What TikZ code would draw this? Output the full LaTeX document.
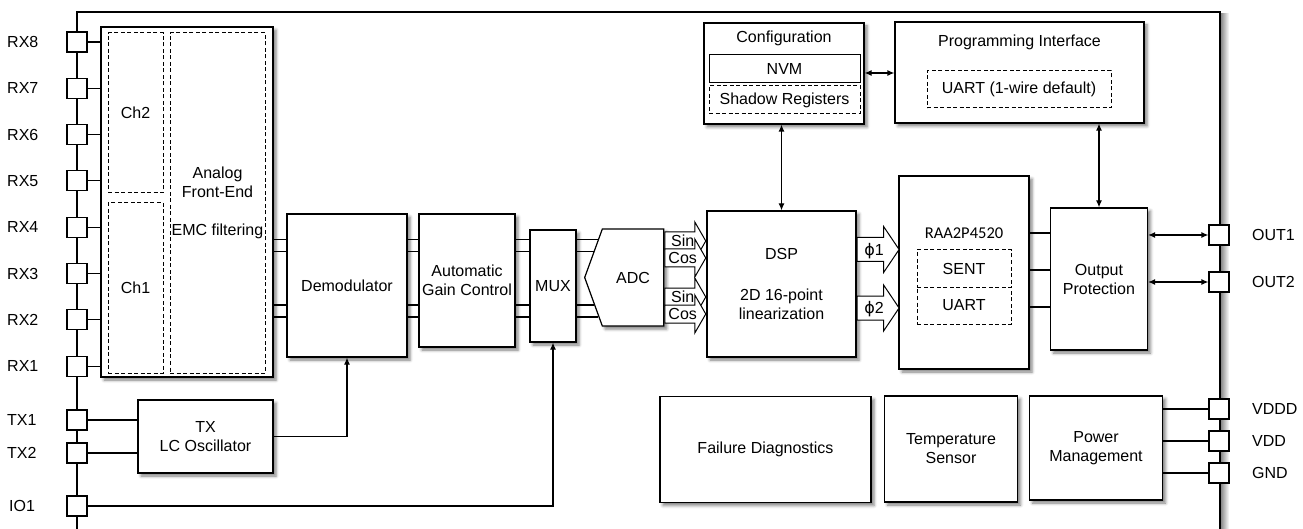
\documentclass[tikz,border=0pt]{standalone}
\usepackage{fontspec}
\setmainfont{Liberation Sans}
\newfontfamily\calfont{Carlito}
\newfontfamily\grkfont{DejaVu Sans}
\usetikzlibrary{arrows.meta, positioning, calc, shapes.arrows, shapes.symbols, shadows.blur}

\begin{document}
\begin{tikzpicture}[x=1pt, y=-1pt,
  font=\fontsize{16}{19}\selectfont,
  blk/.style={draw, line width=1.2pt, fill=white, align=center, inner sep=0pt,
    blur shadow={shadow xshift=3pt, shadow yshift=-3pt, shadow blur radius=3pt, shadow opacity=50}},
  inbox/.style={draw, line width=1pt, fill=white, align=center, inner sep=0pt},
  dbox/.style={inbox, dash pattern=on 4pt off 2.5pt},
  padbox/.style={draw, line width=1.2pt, fill=white, minimum size=20pt, inner sep=0pt},
  lbl/.style={anchor=west, inner sep=0pt},
  wire/.style={line width=1.2pt},
  bi/.style={wire, {Latex[length=7pt,width=6pt]}-{Latex[length=7pt,width=6pt]}},
  uni/.style={wire, -{Latex[length=7pt,width=6pt]}},
  sig/.style={single arrow, draw, line width=1pt, fill=white, anchor=tail,
    inner xsep=2pt, text height=11.5pt, text depth=0pt, inner ysep=2.75pt,
    single arrow head extend=10pt, single arrow tip angle=120, minimum height=41pt},
  phiarr/.style={sig, inner ysep=5.75pt, single arrow head extend=11pt,
    single arrow tip angle=112, minimum height=42pt}]
  \useasboundingbox (0,0) rectangle (1303,529);

  % chip outline, open at the bottom
  \shade[left color=black!45, right color=white] (1221,14) rectangle (1229,529);
  \draw[line width=1.4pt] (77,529) -- (77,12) -- (1220,12) -- (1220,529);

  % pins
  \foreach \n in {1,...,8} {
    \node[padbox] (rx\n) at (77,{42+(8-\n)*46.3}) {};
    \node[lbl] (rxl\n) at (7,{42+(8-\n)*46.3}) {RX\n};
  }
  \node[padbox] (tx1) at (77,420) {};
  \node[lbl] (tx1l) at (7,420) {TX1};
  \node[padbox] (tx2) at (77,453) {};
  \node[lbl] (tx2l) at (7,453) {TX2};
  \node[padbox] (io1) at (77,506) {};
  \node[lbl] (io1l) at (9,506) {IO1};
  \node[padbox] (out1) at (1219,235) {};
  \node[lbl] (out1l) at (1252,235) {OUT1};
  \node[padbox] (out2) at (1219,282) {};
  \node[lbl] (out2l) at (1252,282) {OUT2};
  \node[padbox] (vddd) at (1219,409) {};
  \node[lbl] (vdddl) at (1252,409) {VDDD};
  \node[padbox] (vdd) at (1219,441) {};
  \node[lbl] (vddl) at (1252,441) {VDD};
  \node[padbox] (gnd) at (1219,473) {};
  \node[lbl] (gndl) at (1252,473) {GND};

  % receive path
  \node[blk, minimum width=172pt, minimum height=350pt] (afe) at (187,202) {};
  \node[dbox, minimum width=55pt, minimum height=160pt] (ch2) at (135.5,113) {Ch2};
  \node[dbox, minimum width=55pt, minimum height=170pt] (ch1) at (135.5,288) {Ch1};
  \node[dbox, minimum width=95pt, minimum height=340pt] (ana) at (217.5,203)
    {Analog\\Front-End\\[19pt]EMC filtering};
  \node[blk, minimum width=120pt, minimum height=143pt] (demod) at (347,285.5) {Demodulator};
  \node[blk, minimum width=96pt, minimum height=133pt] (agc) at (467,280.5) {Automatic\\Gain Control};
  \node[blk, minimum width=46pt, minimum height=112pt] (mux) at (553,286) {MUX};
  \node[blk, signal, signal to=west, signal pointer angle=140,
    minimum width=79pt, minimum height=97pt] (adc) at (633,277.5) {ADC};
  \node[blk, minimum width=149pt, minimum height=146pt] (dsp) at (781.5,284)
    {DSP\\[22pt]2D 16-point\\linearization};

  \foreach \y in {239.5,251.5,305,317} {
    \draw[wire] (afe.east |- 0,\y) -- (demod.west |- 0,\y);
    \draw[wire] (demod.east |- 0,\y) -- (agc.west |- 0,\y);
    \draw[wire] (agc.east |- 0,\y) -- (mux.west |- 0,\y);
  }
  % the ADC input side is slanted, so each wire stops a bit further in
  \foreach \y/\dx in {239.5/13.8, 251.5/9.5, 305/10, 317/14.4}
    \draw[wire] (mux.east |- 0,\y) -- ($(adc.west |- 0,\y)+(\dx,0)$);
  \foreach \n in {1,...,8}
    \draw[wire] (rx\n.east) -- (rx\n.east -| afe.west);

  \node[sig] (sin1) at (adc.east |- 0,241) {Sin};
  \node[sig] (cos1) at (adc.east |- 0,258) {Cos};
  \node[sig] (sin2) at (adc.east |- 0,297) {Sin};
  \node[sig] (cos2) at (adc.east |- 0,314) {Cos};

  % transmit side
  \node[blk, minimum width=135pt, minimum height=73pt] (tx) at (205.5,436.5) {TX\\LC Oscillator};
  \draw[wire] (tx1.east) -- (tx1.east -| tx.west);
  \draw[wire] (tx2.east) -- (tx2.east -| tx.west);
  \draw[uni] (tx.east) -| (demod.south);
  \draw[uni] (io1.east) -| (mux.south);

  % output interface
  \node[blk, minimum width=130pt, minimum height=193pt] (raa) at (964,272.5) {};
  \node[inbox, draw=none, fill=none, font=\calfont\fontsize{16.5}{19}\selectfont] (raat)
    at (raa.north |- 0,233) {RAA2P4520};
  \node[dbox, minimum width=94pt, minimum height=37pt] (sent) at (964,268.5) {SENT};
  \node[dbox, minimum width=94pt, minimum height=37pt] (uart) at (964,305.5) {UART};
  \node[phiarr] (phi1) at (dsp.east |- 0,249.5) {{\grkfont ϕ}1};
  \node[phiarr] (phi2) at (dsp.east |- 0,308) {{\grkfont ϕ}2};
  \node[blk, minimum width=97pt, minimum height=142pt] (op) at (1099,279) {Output\\Protection};
  \foreach \y in {233,270,307}
    \draw[wire] (raa.east |- 0,\y) -- (op.west |- 0,\y);
  \draw[bi] (op.east |- out1) -- (out1.west);
  \draw[bi] (op.east |- out2) -- (out2.west);

  % configuration and programming
  \node[blk, minimum width=160pt, minimum height=101pt] (cfg) at (784,73.5) {};
  \node[inbox, draw=none, fill=none] (cfgt) at (cfg.north |- 0,38.5) {Configuration};
  \node[inbox, minimum width=151pt, minimum height=28pt] (nvm) at (784.5,69) {NVM};
  \node[dbox, minimum width=151pt, minimum height=28pt] (shreg) at (784.5,100) {Shadow Registers};
  \node[blk, minimum width=249pt, minimum height=101pt] (pi) at (1019.5,72.5) {};
  \node[inbox, draw=none, fill=none] (pit) at (pi.north |- 0,42) {Programming Interface};
  \node[dbox, minimum width=184pt, minimum height=37pt] (piuart) at (1019,89.5) {UART (1-wire default)};
  \draw[bi] (cfg.east |- 0,73) -- (pi.west |- 0,73);
  \draw[bi] (cfg.south -| dsp.north) -- (dsp.north);
  \draw[bi] (pi.south -| op.north) -- (op.north);

  % housekeeping blocks
  \node[blk, minimum width=211pt, minimum height=106pt] (fd) at (765.5,449.5) {Failure Diagnostics};
  \node[blk, minimum width=133pt, minimum height=106pt] (ts) at (951,449) {Temperature\\Sensor};
  \node[blk, minimum width=133pt, minimum height=104pt] (pm) at (1096,448) {Power\\Management};
  \foreach \p in {vddd,vdd,gnd}
    \draw[wire] (pm.east |- \p) -- (\p.west);
\end{tikzpicture}
\end{document}
